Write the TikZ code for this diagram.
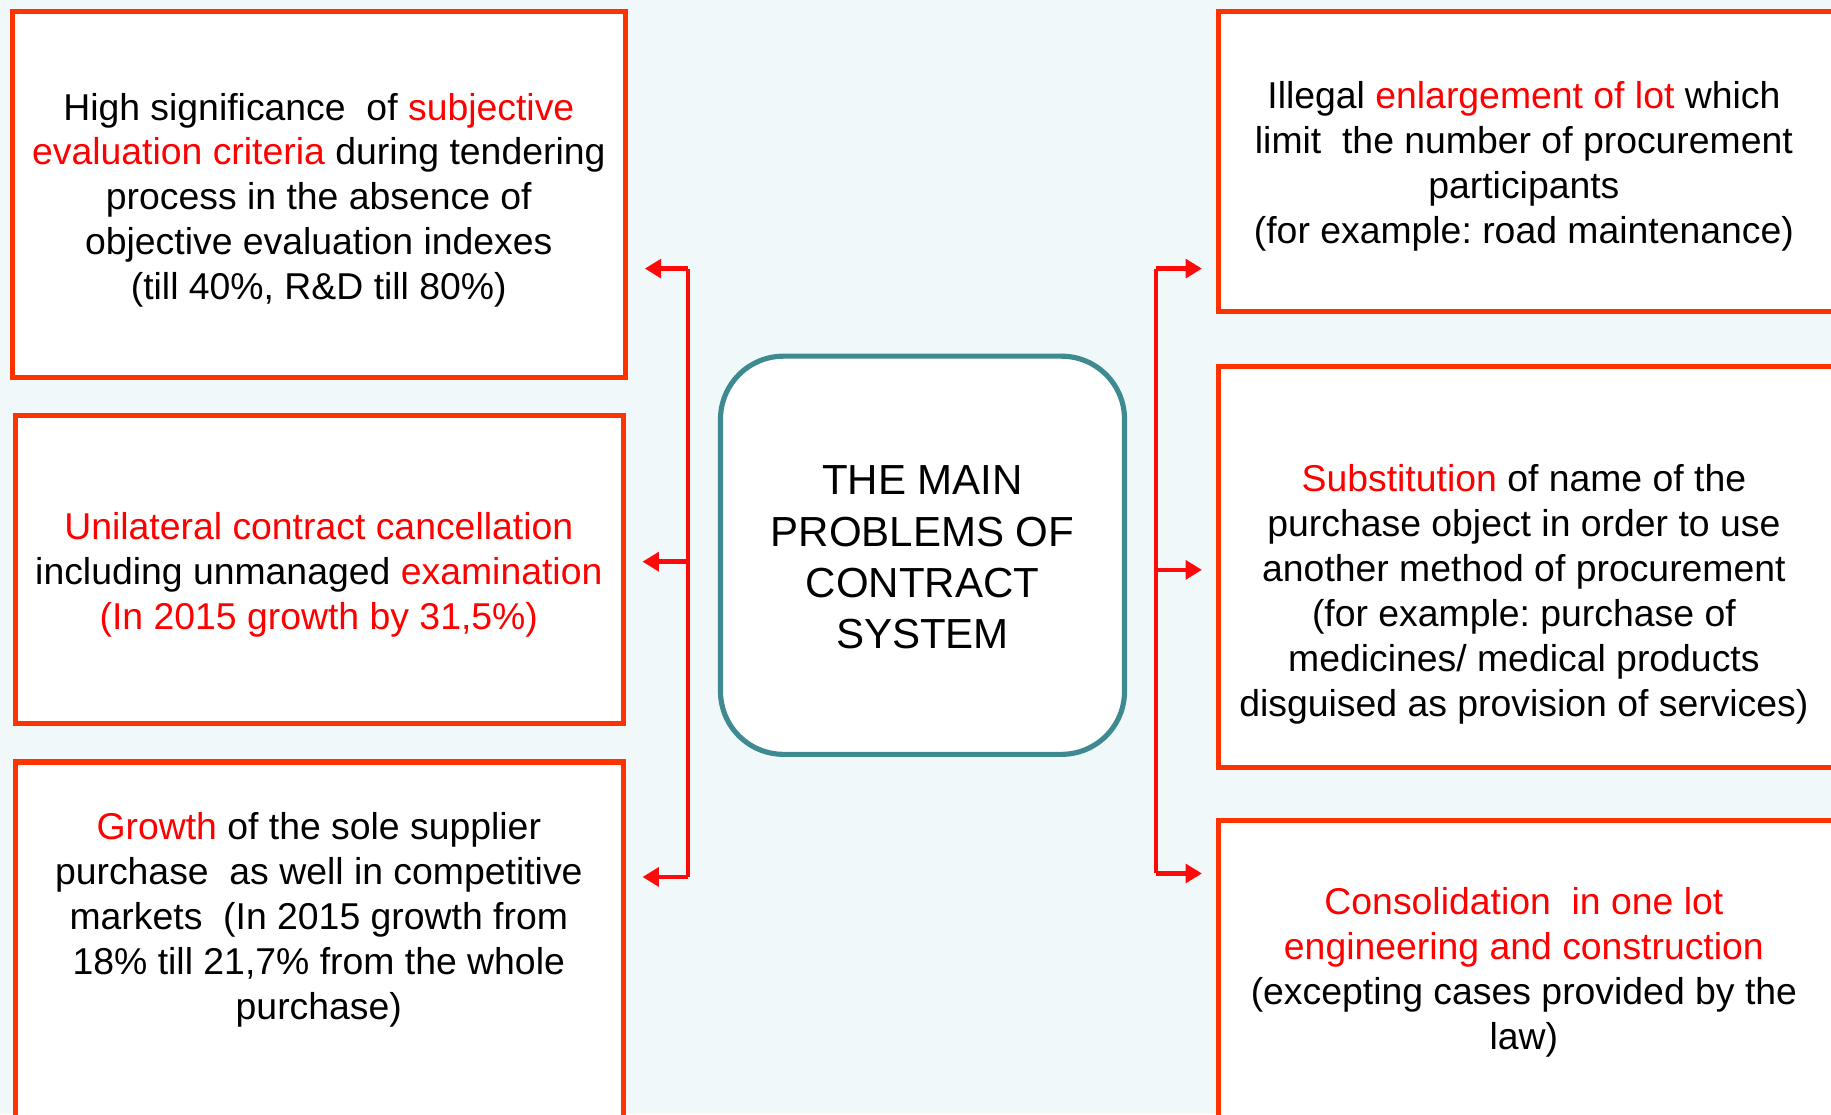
\documentclass[tikz,border=0pt]{standalone}
\usepackage{fontspec}
\setmainfont{Liberation Sans}
\usetikzlibrary{arrows.meta}
\definecolor{bg}{RGB}{240,248,250}
\definecolor{boxred}{RGB}{255,51,0}
\definecolor{txtred}{RGB}{255,0,0}
\definecolor{teal}{RGB}{62,138,144}
\definecolor{arrred}{RGB}{255,10,10}
\newcommand{\rd}[1]{\textcolor{txtred}{#1}}
\frenchspacing
\tikzset{
  probbox/.style={draw=boxred, line width=2.2pt, fill=white, rectangle, inner sep=0pt},
  probtext/.style={align=center, inner sep=0pt, font=\fontsize{16}{19.25}\selectfont, text=black},
  centerbox/.style={draw=teal, line width=2.2pt, fill=white, rounded corners=27pt, inner sep=0pt,
    minimum width=173pt, minimum height=170.5pt},
  centertext/.style={align=center, inner sep=0pt, font=\fontsize{18}{22}\selectfont},
  spine/.style={draw=arrred, line width=1.9pt},
  arr/.style={draw=arrred, line width=1.9pt, -{Triangle[length=7pt,width=8pt]}},
}
\begin{document}
\begin{tikzpicture}[x=0.5pt,y=-0.5pt]
\fill[bg] (0,0) rectangle (1568,954);
\useasboundingbox (0,0) rectangle (1568,954);
\clip (0,0) rectangle (1568,954);
% boxes
\node[probbox, minimum width=262.5pt, minimum height=157pt] (L1) at (273.5,166.5) {};
\node[probbox, minimum width=260.5pt, minimum height=132pt] (L2) at (273.5,487.5) {};
\node[probbox, minimum width=260.5pt, minimum height=159pt] (L3) at (273.5,811.5) {};
\node[probbox, minimum width=268.5pt, minimum height=128.5pt] (R1) at (1312,138) {};
\node[probbox, minimum width=268.5pt, minimum height=172pt] (R2) at (1312,485.5) {};
\node[probbox, minimum width=268.5pt, minimum height=139pt] (R3) at (1312,841.5) {};
\node[centerbox] (C) at (790,475.5) {};
% texts
\node[probtext] (tL1) at (273,171.5) {High significance \ of \rd{subjective}\\\rd{evaluation criteria} during tendering\\process in the absence of\\objective evaluation indexes\\(till 40\%, R\&D till 80\%)};
\node[probtext] (tL2) at (273,492.5) {\rd{Unilateral contract cancellation}\\including unmanaged \rd{examination}\\\rd{(In 2015 growth by 31,5\%)}};
\node[probtext] (tL3) at (273,787.5) {\rd{Growth} of the sole supplier\\purchase \ as well in competitive\\markets \ (In 2015 growth from\\18\% till 21,7\% from the whole\\purchase)};
\node[probtext] (tR1) at (1305,142.5) {Illegal \rd{enlargement of lot} which\\limit \ the number of procurement\\participants\\(for example: road maintenance)};
\node[probtext] (tR2) at (1305,509) {\rd{Substitution} of name of the\\purchase object in order to use\\another method of procurement\\(for example: purchase of\\medicines/ medical products\\disguised as provision of services)};
\node[probtext] (tR3) at (1305,832.5) {\rd{Consolidation \ in one lot}\\\rd{engineering and construction}\\(excepting cases provided by the\\law)};
\node[centertext] (tC) at (790,477.5) {THE MAIN\\PROBLEMS OF\\CONTRACT\\SYSTEM};
% connectors left
\coordinate (sl1) at (589,230);
\coordinate (sl2) at (589,481);
\coordinate (sl3) at (589,751);
\draw[spine] (sl1) -- (sl3);
\draw[arr, shorten >=7pt] (sl1) -- (L1.east |- sl1);
\draw[arr, shorten >=7pt] (sl2) -- (L2.east |- sl2);
\draw[arr, shorten >=7pt] (sl3) -- (L3.east |- sl3);
% connectors right
\coordinate (sr1) at (990,230);
\coordinate (sr2) at (990,488);
\coordinate (sr3) at (990,748);
\draw[spine] (sr1) -- (sr3);
\draw[arr, shorten >=6pt] (sr1) -- (R1.west |- sr1);
\draw[arr, shorten >=6pt] (sr2) -- (R2.west |- sr2);
\draw[arr, shorten >=6pt] (sr3) -- (R3.west |- sr3);
\end{tikzpicture}
\end{document}
